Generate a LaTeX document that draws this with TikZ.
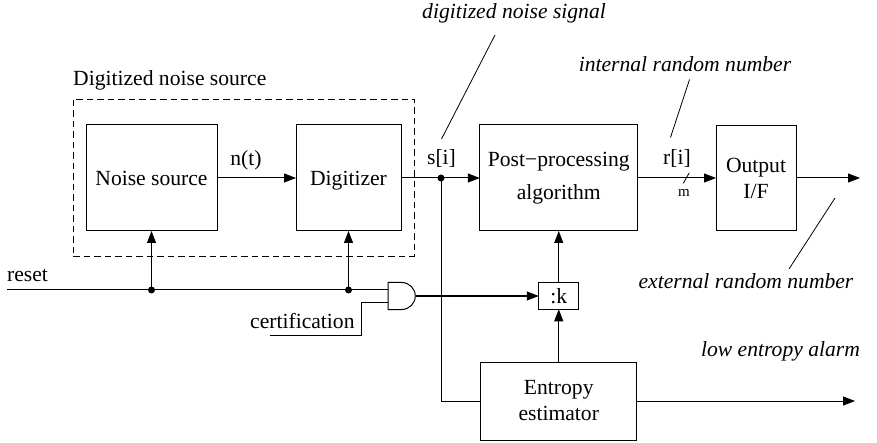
\documentclass[tikz,border=0pt]{standalone}
\usepackage{fontspec}
\setmainfont{Liberation Serif}
\usetikzlibrary{arrows.meta}
\begin{document}
\begin{tikzpicture}[x=1pt,y=-1pt,
  wire/.style={line width=1pt},
  sig/.style={wire,-{Triangle[length=12pt,width=9pt]}},
  leader/.style={line width=0.8pt},
  block/.style={draw,line width=1pt,inner sep=0pt,outer sep=0pt,align=center,
    font=\fontsize{21.6}{26}\selectfont},
  lbl/.style={anchor=base,inner sep=0pt,font=\fontsize{21.6}{26}\selectfont},
  note/.style={lbl,font=\fontsize{21.6}{26}\selectfont\itshape},
  tapdot/.style={radius=3.5pt}]
\useasboundingbox (0,0) rectangle (877,443);

% digitized noise source group
\node[draw,dash pattern=on 6.5pt off 4pt,line width=0.9pt,inner sep=0pt,
  minimum width=341pt,minimum height=157pt] (grp) at (243.5,177.5) {};
\node[lbl,anchor=base west] (grpname) at (73,86) {Digitized noise source};

% blocks
\node[block,minimum width=131pt,minimum height=106pt] (nsrc) at (151.5,178) {Noise source};
\node[block,minimum width=105pt,minimum height=106pt,text depth=0pt] (digi) at (348.5,178) {Digitizer};
\node[block,minimum width=158pt,minimum height=106pt] (post) at (558.75,178) {Post−processing\\[7pt]algorithm};
\node[block,minimum width=80pt,minimum height=105pt] (outif) at (756,178) {Output\\I/F};
\node[block,minimum width=40pt,minimum height=26.5pt] (div) at (558.75,296) {:k};
\node[block,minimum width=156pt,minimum height=78pt] (ent) at (558.75,401) {Entropy\\estimator};

% AND gate
\node[inner sep=0pt,outer sep=0pt,minimum width=27.5pt,minimum height=27pt] (gate) at (401.75,296) {};
\draw[wire] (gate.north west) -- (gate.north) arc[start angle=90,end angle=-90,radius=13.5pt]
  -- (gate.south west) -- cycle;

% signal path
\coordinate (stap) at (441,178);
\coordinate (rndout) at (860,178);
\draw[sig] (nsrc) -- (digi);
\draw[sig] (digi) -- (post);
\draw[sig] (post) -- (outif);
\draw[sig] (outif) -- (rndout);
\fill (stap) circle[tapdot];
\draw[wire] (stap) |- (ent.west);

% reset and certification
\coordinate (rst) at (7,290);
\coordinate (rtap1) at (nsrc.south |- rst);
\coordinate (rtap2) at (digi.south |- rst);
\coordinate (cert) at (270,335.5);
\draw[wire] (rst) -- (gate.west |- rst);
\draw[sig] (rtap1) -- (nsrc.south);
\draw[sig] (rtap2) -- (digi.south);
\fill (rtap1) circle[tapdot];
\fill (rtap2) circle[tapdot];
\draw[wire] (cert) -- ++(91.5,0) |- ([yshift=-6.3pt]gate.west);
\draw[sig] (gate.east) -- (div.west);
\draw[sig] (div) -- (post);
\draw[sig] (ent) -- (div);

% alarm output
\coordinate (alarm) at (855,401);
\draw[sig] (ent) -- (alarm);

% bus width mark
\coordinate (mA) at (683.3,183.3);
\coordinate (mB) at (689.3,172.7);
\draw[leader] (mA) -- (mB);

% signal labels
\node[lbl] (nt) at (246,166) {n(t)};
\node[lbl] (si) at (441.5,165) {s[i]};
\node[lbl] (ri) at (677,165) {r[i]};
\node[lbl,font=\fontsize{15}{18}\selectfont] (mw) at (684,196.5) {m};
\node[lbl,anchor=base west] (rstname) at (7,282) {reset};
\node[lbl,anchor=base west] (certname) at (250,328) {certification};

% annotations with leader lines
\node[note] (dnsnote) at (514,18.5) {digitized noise signal};
\node[note] (irnote) at (685,72) {internal random number};
\node[note] (ernote) at (746,288) {external random number};
\node[note] (alarmnote) at (780.5,356.5) {low entropy alarm};
\coordinate (dnsA) at (495,35);
\coordinate (dnsB) at (441.5,139);
\coordinate (irA) at (689.5,79.5);
\coordinate (irB) at (670.5,137.5);
\coordinate (erA) at (835,198);
\coordinate (erB) at (789,269);
\draw[leader] (dnsA) -- (dnsB);
\draw[leader] (irA) -- (irB);
\draw[leader] (erA) -- (erB);
\end{tikzpicture}
\end{document}
